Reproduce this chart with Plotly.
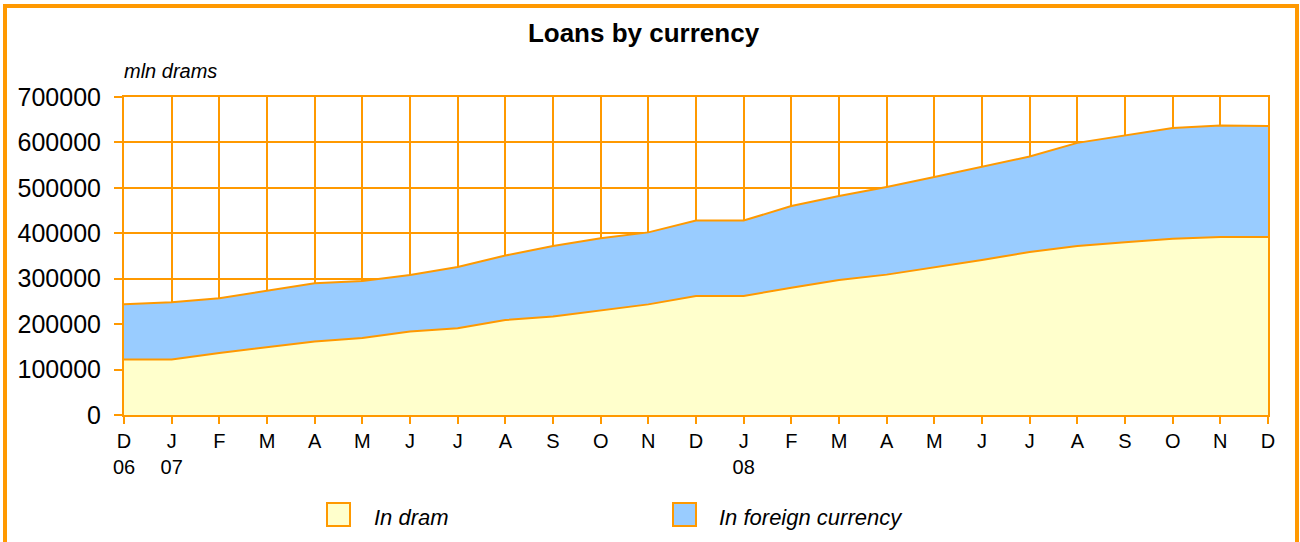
import plotly.graph_objects as go

# ---- data ----
month_labels = ["D", "J", "F", "M", "A", "M", "J", "J", "A", "S", "O", "N",
                "D", "J", "F", "M", "A", "M", "J", "J", "A", "S", "O", "N", "D"]
year_labels = {0: "06", 1: "07", 13: "08"}

in_dram = [122000, 122000, 136500, 149000, 162000, 169500, 184000, 191000,
           209000, 217000, 230000, 243500, 262000, 262000, 280000, 297000,
           309000, 325000, 341000, 359000, 372000, 380000, 388000, 392000, 392000]
in_foreign = [122000, 126000, 120500, 125000, 128000, 125500, 124000, 135000,
              142000, 155000, 159000, 158500, 166000, 166000, 180000, 185000,
              193000, 199000, 206000, 210000, 227000, 236000, 244000, 245000, 244000]
y_ticks = [0, 100000, 200000, 300000, 400000, 500000, 600000, 700000]

series_names = ["In dram", "In foreign currency"]

ORANGE = "#FF9900"
FILL_DRAM = "#FFFFCC"
FILL_FOREIGN = "#99CCFF"
FONT = "Liberation Sans, Arial, sans-serif"

W, H = 1300, 542
L, R, T, B = 124, 32, 97, 127
PW, PH = W - L - R, H - T - B


def px(x):
    return (x - L) / PW


def py(y):
    return (H - B - y) / PH


x = list(range(len(month_labels)))
ticktext = [m + ("<br>" + year_labels[i] if i in year_labels else "")
            for i, m in enumerate(month_labels)]

fig = go.Figure()
fig.add_trace(go.Scatter(x=x, y=in_dram, name=series_names[0], stackgroup="one",
                         mode="lines", line=dict(color=ORANGE, width=2),
                         fillcolor=FILL_DRAM, showlegend=False))
fig.add_trace(go.Scatter(x=x, y=in_foreign, name=series_names[1], stackgroup="one",
                         mode="lines", line=dict(color=ORANGE, width=2),
                         fillcolor=FILL_FOREIGN, showlegend=False))

fig.update_xaxes(range=[0, len(month_labels) - 1], tickvals=x, ticktext=ticktext,
                 showgrid=True, gridcolor=ORANGE, gridwidth=2,
                 showline=True, linecolor=ORANGE, linewidth=2, mirror=True,
                 ticks="outside", ticklen=7, tickwidth=2, tickcolor=ORANGE,
                 tickfont=dict(size=20, color="black", family=FONT),
                 zeroline=False, fixedrange=True)
fig.update_yaxes(range=[0, 700000], tickvals=y_ticks, tickformat="d",
                 showgrid=True, gridcolor=ORANGE, gridwidth=2,
                 showline=True, linecolor=ORANGE, linewidth=2, mirror=True,
                 ticks="outside", ticklen=8, tickwidth=2, tickcolor=ORANGE,
                 ticklabelstandoff=8,
                 tickfont=dict(size=25, color="black", family=FONT),
                 zeroline=False, fixedrange=True)

shapes = [
    # outer frame
    dict(type="rect", xref="paper", yref="paper",
         x0=px(5), x1=px(1297), y0=py(548), y1=py(6),
         line=dict(color=ORANGE, width=4), fillcolor="rgba(0,0,0,0)", layer="above"),
    # legend boxes
    dict(type="rect", xref="paper", yref="paper",
         x0=px(327), x1=px(350), y0=py(526), y1=py(503),
         line=dict(color=ORANGE, width=2), fillcolor=FILL_DRAM),
    dict(type="rect", xref="paper", yref="paper",
         x0=px(673), x1=px(696), y0=py(526), y1=py(503),
         line=dict(color=ORANGE, width=2), fillcolor=FILL_FOREIGN),
]

annotations = [
    dict(text="<i>mln drams</i>", xref="paper", yref="paper", x=px(122), y=py(71),
         xanchor="left", yanchor="middle", showarrow=False,
         font=dict(size=20, color="black", family=FONT)),
    dict(text="<i>" + series_names[0] + "</i>", xref="paper", yref="paper",
         x=px(372), y=py(517), xanchor="left", yanchor="middle", showarrow=False,
         font=dict(size=22, color="black", family=FONT)),
    dict(text="<i>" + series_names[1] + "</i>", xref="paper", yref="paper",
         x=px(717), y=py(517), xanchor="left", yanchor="middle", showarrow=False,
         font=dict(size=22, color="black", family=FONT)),
]

fig.update_layout(
    width=W, height=H,
    margin=dict(l=L, r=R, t=T, b=B),
    paper_bgcolor="white", plot_bgcolor="white",
    title=dict(text="<b>Loans by currency</b>", x=643.5 / W, xanchor="center",
               xref="container", yref="container", y=1 - 33 / H, yanchor="middle",
               font=dict(size=26, color="black", family=FONT)),
    shapes=shapes, annotations=annotations,
    showlegend=False,
    font=dict(family=FONT, color="black"),
)

fig.write_html("out.html", config={"displayModeBar": False},
               post_script="document.body.style.margin='0';document.body.style.overflow='hidden';")
